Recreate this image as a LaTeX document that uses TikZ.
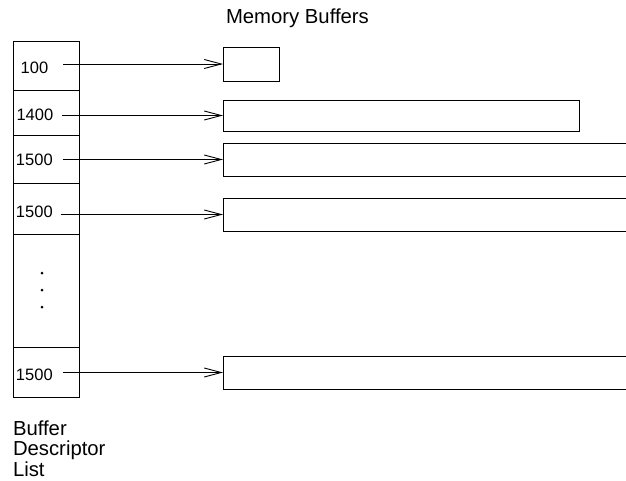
\documentclass[tikz,border=0pt]{standalone}
\usepackage{fontspec}
\setmainfont{Liberation Sans}
\usetikzlibrary{arrows.meta}
\begin{document}
\begin{tikzpicture}[x=1pt,y=-1pt,
  line width=0.9pt,
  cell/.style={draw, rectangle, anchor=north west, inner sep=0pt, outer sep=0pt, minimum width=66pt},
  buf/.style={draw, rectangle, anchor=north west, inner sep=0pt, outer sep=0pt},
  size/.style={anchor=base west, inner sep=0pt, outer sep=0pt, font=\fontsize{16.5}{18}\selectfont},
  caption/.style={inner sep=0pt, outer sep=0pt, font=\fontsize{20.3}{20.8}\selectfont},
  dot/.style={circle, fill, inner sep=0pt, minimum size=3pt},
  arr/.style={-{Straight Barb[length=17pt,width=9pt]}}
]
\useasboundingbox (0,0) rectangle (626,481);
\clip (0,0) rectangle (626,481);

% title over the buffers
\node[caption, anchor=base west] (title) at (226,24) {Memory Buffers};

% descriptor list column
\node[cell, minimum height=49pt]  (c1) at (13,41)  {};
\node[cell, minimum height=45pt]  (c2) at (13,90)  {};
\node[cell, minimum height=48pt]  (c3) at (13,135) {};
\node[cell, minimum height=51pt]  (c4) at (13,183) {};
\node[cell, minimum height=113pt] (c5) at (13,234) {};
\node[cell, minimum height=50pt]  (c6) at (13,347) {};

% buffer sizes (the trailing rule leaves a gap before each pointer)
\node[size] (l1) at (20.7,74)  {100\rule{15pt}{0pt}};
\node[size] (l2) at (16.5,121) {1400\rule{9pt}{0pt}};
\node[size] (l3) at (16,166)   {1500\rule{10pt}{0pt}};
\node[size] (l4) at (16,218)   {1500\rule{8pt}{0pt}};
\node[size] (l6) at (16,380)   {1500\rule{10pt}{0pt}};

% elided entries
\node[dot] (d1) at (42,273) {};
\node[dot] (d2) at (42,290) {};
\node[dot] (d3) at (42,307) {};

% memory buffers
\node[buf, minimum width=56pt,  minimum height=34pt] (b1) at (223,47)  {};
\node[buf, minimum width=356pt, minimum height=31pt] (b2) at (223,100) {};
\node[buf, minimum width=430pt, minimum height=33pt] (b3) at (223,143) {};
\node[buf, minimum width=430pt, minimum height=33pt] (b4) at (223,198) {};
\node[buf, minimum width=430pt, minimum height=33pt] (b6) at (223,356) {};

% pointers from descriptors to buffers
\draw[arr] (l1.east |- b1.west) -- (b1.west);
\draw[arr] (l2.east |- b2.west) -- (b2.west);
\draw[arr] (l3.east |- b3.west) -- (b3.west);
\draw[arr] (l4.east |- b4.west) -- (b4.west);
\draw[arr] (l6.east |- b6.west) -- (b6.west);

% list caption
\node[caption, anchor=north west, align=left] (cap) at (13,420.5) {Buffer\\Descriptor\\List};
\end{tikzpicture}
\end{document}
